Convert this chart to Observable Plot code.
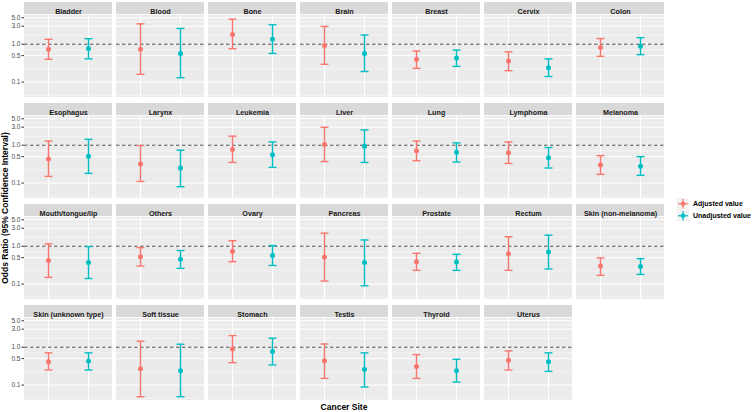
<!DOCTYPE html>
<html><head><meta charset="utf-8">
<script src="https://cdn.jsdelivr.net/npm/d3@7"></script>
<script src="https://cdn.jsdelivr.net/npm/@observablehq/plot@0.6"></script>
<style>
body{margin:0;background:#fff;font-family:"Liberation Sans",Arial,sans-serif;}
#wrap{position:relative;width:752px;height:412px;overflow:hidden;}
#wrap > svg{position:absolute;left:0;top:0;}
.ttl{position:absolute;font-weight:bold;font-size:8.5px;color:#000;white-space:nowrap;}
#ytitle{left:5px;top:208px;transform:translate(-50%,-50%) rotate(-90deg);}
#xtitle{left:344px;top:407px;transform:translate(-50%,-50%);}
#legend{position:absolute;left:677px;top:198px;font-size:7px;font-weight:bold;color:#000;}
#legend .row{display:flex;align-items:center;height:11.5px;}
#legend svg{margin-right:4px;}
</style></head><body><div id="wrap"></div>
<script>
const sites = ["Bladder","Blood","Bone","Brain","Breast","Cervix","Colon",
"Esophagus","Larynx","Leukemia","Liver","Lung","Lymphoma","Melanoma",
"Mouth/tongue/lip","Others","Ovary","Pancreas","Prostate","Rectum","Skin (non-melanoma)",
"Skin (unknown type)","Soft tissue","Stomach","Testis","Thyroid","Uterus"];
const adjOR = [0.74,0.74,1.82,0.92,0.40,0.36,0.82, 0.43,0.32,0.77,1.04,0.71,0.63,0.30, 0.42,0.53,0.74,0.52,0.39,0.63,0.30, 0.41,0.27,0.90,0.44,0.31,0.45];
const adjLo = [0.40,0.16,0.76,0.295,0.23,0.20,0.48, 0.15,0.11,0.35,0.37,0.39,0.33,0.17, 0.15,0.30,0.39,0.12,0.23,0.23,0.17, 0.25,0.049,0.39,0.15,0.15,0.25];
const adjHi = [1.35,3.46,4.58,2.95,0.66,0.63,1.41, 1.29,0.98,1.74,2.98,1.29,1.22,0.53, 1.15,0.92,1.40,2.21,0.65,1.78,0.49, 0.71,1.44,2.03,1.22,0.64,0.80];
const unadjOR = [0.77,0.57,1.35,0.57,0.43,0.24,0.89, 0.51,0.25,0.56,0.94,0.65,0.47,0.28, 0.37,0.45,0.57,0.37,0.38,0.70,0.29, 0.43,0.24,0.77,0.26,0.24,0.41];
const unadjLo = [0.41,0.13,0.57,0.19,0.26,0.14,0.53, 0.18,0.08,0.26,0.35,0.36,0.25,0.16, 0.14,0.26,0.31,0.09,0.23,0.25,0.18, 0.25,0.049,0.34,0.089,0.12,0.23];
const unadjHi = [1.40,2.61,3.26,1.75,0.70,0.41,1.49, 1.43,0.74,1.22,2.54,1.15,0.87,0.50, 0.98,0.77,1.04,1.46,0.61,1.96,0.47, 0.71,1.20,1.73,0.71,0.48,0.71];
const groups = ["Adjusted value","Unadjusted value"];
const colors = ["#F8766D","#00BFC4"];
const yTicks = [0.1,0.5,1,3,5];
const refLine = 1;
const nCols = 7;

// layout
const W = 752, H = 412, mL = 22, mR = 86, mT = 14, mB = 10;
const fyPad = 0.185, nRows = Math.ceil(sites.length / nCols);
const step = (H - mT - mB) / (nRows - fyPad);
const panelH = step * (1 - fyPad);
const stripH = 13;
const capHalf = 4;

const panels = sites.map((s, i) => ({site: s, col: i % nCols, row: Math.floor(i / nCols)}));
const rows = [];
sites.forEach((s, i) => {
  const p = panels[i];
  rows.push({...p, group: groups[0], or: adjOR[i], lo: adjLo[i], hi: adjHi[i]});
  rows.push({...p, group: groups[1], or: unadjOR[i], lo: unadjLo[i], hi: unadjHi[i]});
});

// y domain: data range expanded by 5% in log space (ggplot default)
const allLo = d3.min(rows, d => d.lo), allHi = d3.max(rows, d => d.hi);
const l0 = Math.log10(allLo), l1 = Math.log10(allHi), ex = 0.05 * (l1 - l0);
const yDomain = [10 ** (l0 - ex), 10 ** (l1 + ex)];

// minor grid: log midpoints between major breaks (incl. extrapolated ends)
const lt = yTicks.map(Math.log10);
const ext = [lt[0] - (lt[1] - lt[0]), ...lt, lt[lt.length - 1] + (lt[lt.length - 1] - lt[lt.length - 2])];
const minor = d3.pairs(ext).map(([a, b]) => 10 ** ((a + b) / 2)).filter(v => v >= yDomain[0] && v <= yDomain[1]);

const cross = (vals) => panels.flatMap(p => vals.map(v => ({...p, v})));
const capSymbol = {draw(ctx) { ctx.moveTo(-capHalf, 0); ctx.lineTo(capHalf, 0); }};

const plot = Plot.plot({
  width: W, height: H,
  marginLeft: mL, marginRight: mR, marginTop: mT, marginBottom: mB,
  style: {fontFamily: "'Liberation Sans', Arial, sans-serif", background: "transparent", overflow: "visible"},
  fx: {domain: d3.range(nCols), paddingInner: 0.042, paddingOuter: 0, axis: null},
  fy: {domain: d3.range(nRows), paddingInner: fyPad, paddingOuter: 0, axis: null},
  x: {type: "point", domain: groups, padding: 0.6, axis: null},
  y: {type: "log", domain: yDomain, axis: null},
  color: {domain: groups, range: colors},
  marks: [
    Plot.rect(panels, {fx: "col", fy: "row", fill: "#EBEBEB"}),
    Plot.rect(panels, {fx: "col", fy: "row", fill: "#D9D9D9", insetBottom: panelH - stripH, dy: -stripH}),
    Plot.text(panels, {fx: "col", fy: "row", text: "site", frameAnchor: "top", dy: -stripH / 2, fontWeight: "bold", fontSize: 7.2, fill: "#1A1A1A"}),
    Plot.ruleY(cross(minor), {fx: "col", fy: "row", y: "v", stroke: "#FFFFFF", strokeWidth: 0.5}),
    Plot.ruleY(cross(yTicks), {fx: "col", fy: "row", y: "v", stroke: "#FFFFFF", strokeWidth: 1}),
    Plot.ruleX(cross(groups), {fx: "col", fy: "row", x: "v", stroke: "#FFFFFF", strokeWidth: 1}),
    Plot.ruleY(panels, {fx: "col", fy: "row", y: () => refLine, stroke: "#222222", strokeWidth: 0.8, strokeDasharray: "3.5,2.5"}),
    Plot.ruleX(rows, {fx: "col", fy: "row", x: "group", y1: "lo", y2: "hi", stroke: "group", strokeWidth: 1.4}),
    Plot.dot(rows, {fx: "col", fy: "row", x: "group", y: "lo", stroke: "group", fill: "none", symbol: capSymbol, strokeWidth: 1.4}),
    Plot.dot(rows, {fx: "col", fy: "row", x: "group", y: "hi", stroke: "group", fill: "none", symbol: capSymbol, strokeWidth: 1.4}),
    Plot.dot(rows, {fx: "col", fy: "row", x: "group", y: "or", fill: "group", r: 2.5}),
    Plot.axisY(yTicks, {ticks: yTicks, tickFormat: d3.format(".1f"), tickSize: 2.5, tickPadding: 1.5, fontSize: 6.5, fill: "#4D4D4D", stroke: "#333333", label: null, anchor: "left"})
  ]
});

const wrap = document.getElementById("wrap");
wrap.appendChild(plot);

const yt = document.createElement("div"); yt.className = "ttl"; yt.id = "ytitle";
yt.textContent = "Odds Ratio (95% Confidence Interval)"; wrap.appendChild(yt);
const xt = document.createElement("div"); xt.className = "ttl"; xt.id = "xtitle";
xt.textContent = "Cancer Site"; wrap.appendChild(xt);

const leg = document.createElement("div"); leg.id = "legend";
groups.forEach((g, i) => {
  const r = document.createElement("div"); r.className = "row";
  r.innerHTML = `<svg width="12" height="11.5"><rect x="0" y="0" width="12" height="11.5" fill="#F2F2F2"/>
  <line x1="6" x2="6" y1="1" y2="10.5" stroke="${colors[i]}" stroke-width="1.2"/>
  <line x1="1" x2="11" y1="5.75" y2="5.75" stroke="${colors[i]}" stroke-width="1.2"/>
  <circle cx="6" cy="5.75" r="2.3" fill="${colors[i]}"/></svg><span>${g}</span>`;
  leg.appendChild(r);
});
wrap.appendChild(leg);
</script></body></html>
